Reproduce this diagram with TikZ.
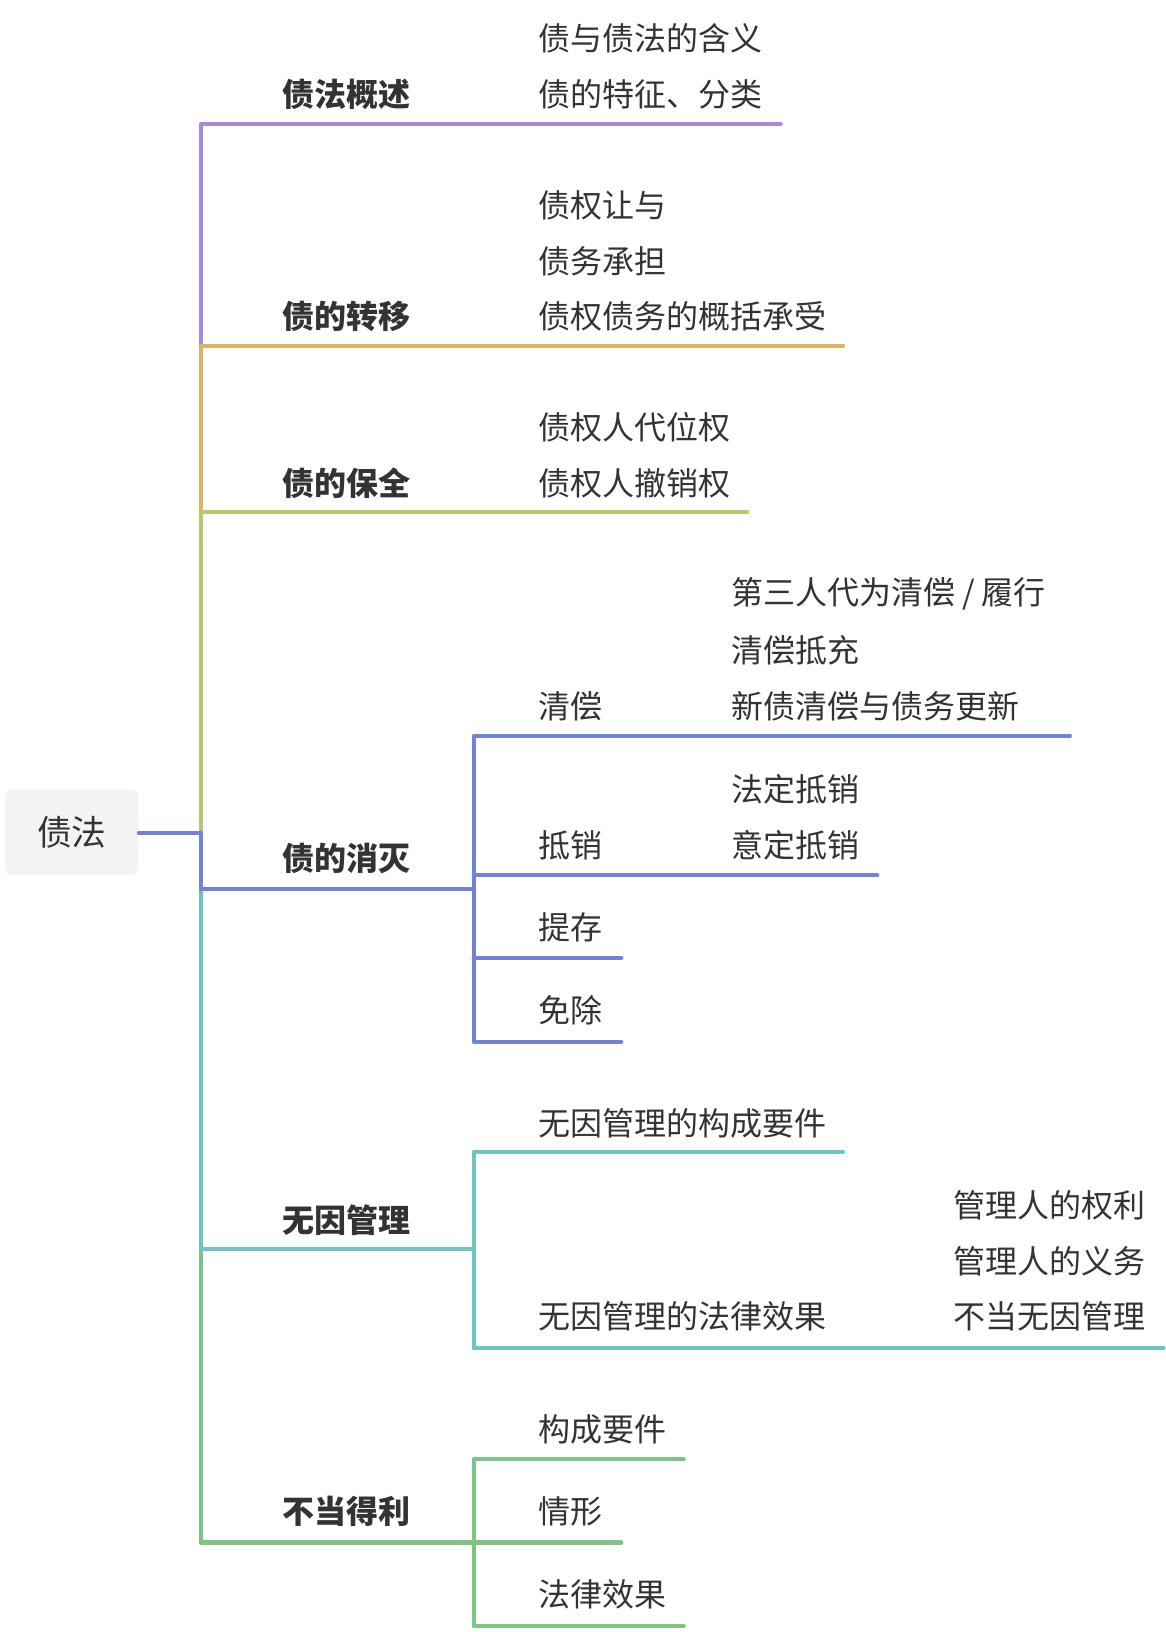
\documentclass[tikz,border=0pt]{standalone}
\usepackage{fontspec}
\setmainfont{Noto Sans CJK SC}
\usetikzlibrary{positioning}
\definecolor{cpurple}{HTML}{A98BDC}
\definecolor{corange}{HTML}{DDB35C}
\definecolor{colive}{HTML}{B7C76C}
\definecolor{cblue}{HTML}{7282D8}
\definecolor{cteal}{HTML}{6DC4C0}
\definecolor{cgreen}{HTML}{7EC485}
\definecolor{ctext}{HTML}{333333}
\definecolor{cbox}{HTML}{F3F3F3}
\tikzset{
	topic/.style={anchor=west, inner sep=0pt, text=ctext, font=\fontsize{17.5}{20}\selectfont\bfseries},
	leaf/.style={anchor=west, inner sep=0pt, text=ctext, font=\fontsize{17.5}{20}\selectfont},
	branch/.style={line width=2.2pt, line cap=round, line join=round},
}
\begin{document}
\begin{tikzpicture}[x=0.02cm, y=-0.02cm]
	\def\T{193}
	\def\S{455}
	\useasboundingbox (0,0) rectangle (1120,1568);

	% root
	\node[fill=cbox, rounded corners=4pt, minimum width=2.56cm, minimum height=1.64cm, text=ctext, font=\fontsize{19}{22}\selectfont] (root) at (69,800) {债法};

	% level one, upper part
	\draw[branch, cpurple]	(\T,800) -- (\T,119) -- (750,119);
	\draw[branch, corange]	(\T,800) -- (\T,332) -- (810,332);
	\draw[branch, colive]	(\T,800) -- (\T,492) -- (718,492);
	% level one, lower part
	\draw[branch, cgreen]	(\T,800) -- (\T,1482) -- (\S,1482);
	\draw[branch, cteal]	(\T,800) -- (\T,1200) -- (\S,1200);
	\draw[branch, cblue]	(root.east) -- (\T,800) -- (\T,854) -- (\S,854);

	\node[topic] (gaishu) at (271,91) {债法概述};
	\node[topic] (zhuanyi) at (271,304) {债的转移};
	\node[topic] (baoquan) at (271,464) {债的保全};
	\node[topic] (xiaomie) at (271,825) {债的消灭};
	\node[topic] (wuyin) at (271,1172) {无因管理};
	\node[topic] (budang) at (271,1452) {不当得利};

	% 债法概述
	\node[leaf] (hanyi) at (517,37) {债与债法的含义};
	\node[leaf] (tezheng) at (517,91) {债的特征、分类};

	% 债的转移
	\node[leaf] (rangyu) at (517,197) {债权让与};
	\node[leaf] (chengdan) at (517,251) {债务承担};
	\node[leaf] (gaikuo) at (517,304) {债权债务的概括承受};

	% 债的保全
	\node[leaf] (daiwei) at (517,411) {债权人代位权};
	\node[leaf] (chexiao) at (517,464) {债权人撤销权};

	% 债的消灭
	\draw[branch, cblue]	(\S,854) -- (\S,707) -- (1028,707);
	\draw[branch, cblue]	(\S,854) -- (\S,1001) -- (597,1001);
	\draw[branch, cblue]	(\S,841) -- (843,841);
	\draw[branch, cblue]	(\S,920) -- (597,920);
	\node[leaf] (qingchang) at (517,679) {清偿};
	\node[leaf] (dixiao) at (517,812) {抵销};
	\node[leaf] (ticun) at (517,891) {提存};
	\node[leaf] (mianchu) at (517,971) {免除};
	\node[leaf] (disan) at (702,571) {第三人代为清偿 / 履行};
	\node[leaf] (dichong) at (702,625) {清偿抵充};
	\node[leaf] (xinzhai) at (702,679) {新债清偿与债务更新};
	\node[leaf] (fading) at (702,758) {法定抵销};
	\node[leaf] (yiding) at (702,812) {意定抵销};

	% 无因管理
	\draw[branch, cteal]	(\S,1200) -- (\S,1107) -- (810,1107);
	\draw[branch, cteal]	(\S,1200) -- (\S,1295) -- (1118,1295);
	\node[leaf] (goucheng) at (517,1079) {无因管理的构成要件};
	\node[leaf] (xiaoguo) at (517,1265) {无因管理的法律效果};
	\node[leaf] (quanli) at (916,1158) {管理人的权利};
	\node[leaf] (yiwu) at (916,1212) {管理人的义务};
	\node[leaf] (budangwy) at (916,1265) {不当无因管理};

	% 不当得利
	\draw[branch, cgreen]	(\S,1482) -- (\S,1402) -- (657,1402);
	\draw[branch, cgreen]	(\S,1482) -- (\S,1562) -- (657,1562);
	\draw[branch, cgreen]	(\S,1482) -- (597,1482);
	\node[leaf] (yaojian) at (517,1373) {构成要件};
	\node[leaf] (qingxing) at (517,1452) {情形};
	\node[leaf] (falv) at (517,1532) {法律效果};
\end{tikzpicture}
\end{document}
